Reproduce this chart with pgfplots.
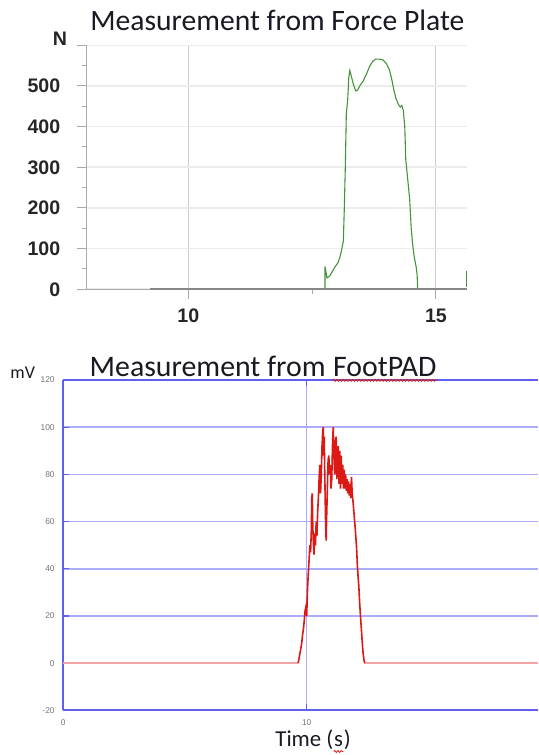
\documentclass[border=0pt]{standalone}
\usepackage{fontspec}
\setmainfont{Carlito}
\newfontfamily\lsans{Liberation Sans}
\usepackage{pgfplots}
\pgfplotsset{compat=1.18}
\usetikzlibrary{decorations.pathmorphing}

\definecolor{fpgreen}{RGB}{70,145,60}
\definecolor{fpaxis}{RGB}{170,170,170}
\definecolor{fpgrid}{RGB}{236,236,236}
\definecolor{fpvgrid}{RGB}{205,205,205}
\definecolor{fpzero}{RGB}{135,135,135}
\definecolor{fpblue}{RGB}{95,95,245}
\definecolor{fpbgrid}{RGB}{172,172,255}
\definecolor{fpred}{RGB}{220,25,20}
\definecolor{fppink}{RGB}{245,165,165}
\definecolor{titlecol}{RGB}{25,25,35}

\begin{document}
\begin{tikzpicture}
\path[use as bounding box] (0,0) rectangle (269pt,377.5pt);

% force plate
\begin{axis}[
  at={(43.35pt,232.85pt)}, anchor=south west, scale only axis,
  width=190pt, height=122pt,
  xmin=7.95, xmax=15.62, ymin=0, ymax=600,
  axis x line*=bottom, axis y line*=left,
  axis line style={-, draw=fpaxis, line width=0.5pt},
  xtick={10,15}, minor xtick={12.5},
  ytick={0,100,...,600}, yticklabels={0,100,200,300,400,500,{}},
  minor ytick={50,150,...,550},
  tick align=outside, major tick length=5pt, minor tick length=2.5pt,
  tick style={draw=fpaxis, line width=0.5pt},
  xmajorgrids, ymajorgrids,
  x grid style={draw=fpvgrid, line width=0.5pt},
  y grid style={draw=fpgrid, line width=0.8pt},
  /pgf/number format/assume math mode=true,
  ticklabel style={font=\lsans\bfseries\fontsize{9.8}{11}\selectfont, text=black!85},
  yticklabel style={anchor=east, inner sep=0pt, xshift=-8pt},
  xticklabel style={anchor=center, inner sep=0pt, yshift=-8.35pt},
  clip=false,
]
\addplot[fpgreen, line width=0.55pt] coordinates {
(12.76,0) (12.76,56) (12.80,28) (12.85,32) (12.90,42) (12.96,55) (13.02,65)
(13.06,78) (13.10,100) (13.13,118) (13.15,200) (13.17,300) (13.19,430)
(13.22,470) (13.24,520) (13.26,538) (13.29,525) (13.33,505) (13.38,488)
(13.42,490) (13.47,502) (13.53,512) (13.60,530) (13.66,548) (13.72,560)
(13.78,566) (13.86,566) (13.93,564) (14.00,555) (14.06,540) (14.11,515)
(14.15,490) (14.19,470) (14.24,455) (14.28,448) (14.31,452) (14.34,440)
(14.37,400) (14.39,320) (14.43,270) (14.47,220) (14.50,150) (14.53,110)
(14.56,80) (14.60,55) (14.62,35) (14.63,0)
};
\addplot[fpgreen, line width=0.55pt] coordinates {(15.61,5) (15.61,45)};
\addplot[fpzero, line width=0.8pt] coordinates {(9.23,0) (15.62,0)};
\end{axis}
\node[anchor=base, inner sep=0pt, font=\lsans\bfseries\fontsize{9.8}{11}\selectfont, text=black!85]
  at (30pt,354.5pt) {N};
\node[anchor=base west, inner sep=0pt, font=\fontsize{14.8}{16}\selectfont, text=titlecol]
  at (45pt,362.15pt) {Measurement from Force Plate};

% footpad
\begin{axis}[
  at={(31.65pt,22.25pt)}, anchor=south west, scale only axis,
  width=237.3pt, height=165.25pt,
  xmin=0, xmax=19.5, ymin=-20, ymax=120,
  axis x line*=box, axis y line*=left,
  axis line style={-, draw=fpblue, line width=1pt},
  xtick={0,10}, ytick={-20,20,40,...,120},
  extra y ticks={0}, extra y tick style={grid=none},
  tick align=inside, major tick length=3pt,
  tick style={draw=fpblue, line width=0.6pt},
  xmajorgrids, ymajorgrids,
  grid style={draw=fpbgrid, line width=0.8pt},
  /pgf/number format/assume math mode=true,
  ticklabel style={font=\lsans\fontsize{4.2}{5}\selectfont, text=black!55},
  yticklabel style={anchor=east, inner sep=0pt, xshift=-4.15pt},
  xticklabel style={anchor=center, inner sep=0pt, yshift=-6.1pt},
  clip=false,
]
\addplot[fppink, line width=0.8pt] coordinates {(0,0) (9.65,0)};
\addplot[fppink, line width=0.8pt] coordinates {(12.39,0) (19.5,0)};
\addplot[fpred, line width=0.8pt] coordinates {
(9.65,0) (9.72,4) (9.79,8) (9.83,12) (9.86,14) (9.90,18) (9.93,22) (9.97,24)
(10.00,20) (10.03,30) (10.06,37) (10.10,44) (10.13,50) (10.16,47) (10.19,56)
(10.21,70) (10.23,72) (10.25,58) (10.28,50) (10.30,46) (10.33,55) (10.36,50)
(10.39,60) (10.42,54) (10.45,64) (10.48,70) (10.51,78) (10.54,84) (10.57,72)
(10.60,80) (10.63,92) (10.66,98) (10.68,100) (10.70,88) (10.72,96) (10.74,82)
(10.76,70) (10.78,58) (10.80,52) (10.82,62) (10.85,74) (10.88,86) (10.91,88)
(10.94,80) (10.97,84) (11.00,74) (11.03,78) (11.06,92) (11.09,100) (11.12,88)
(11.15,80) (11.18,94) (11.21,96) (11.24,78) (11.27,86) (11.30,92) (11.33,76)
(11.36,90) (11.39,74) (11.42,88) (11.45,76) (11.48,84) (11.51,74) (11.54,82)
(11.57,74) (11.60,80) (11.63,73) (11.66,78) (11.69,72) (11.72,77) (11.75,71)
(11.78,76) (11.81,70) (11.84,79) (11.87,72) (11.90,69) (11.94,64) (11.98,59)
(12.01,55) (12.05,49) (12.08,42) (12.11,37) (12.14,33) (12.18,25) (12.21,20)
(12.25,14) (12.29,8) (12.32,4) (12.36,1) (12.39,0)
};
\end{axis}
\node[anchor=base west, inner sep=0pt, font=\fontsize{9}{10}\selectfont, text=titlecol]
  at (5pt,188.35pt) {mV};
\node[anchor=base west, inner sep=0pt, font=\fontsize{14.9}{16}\selectfont, text=titlecol]
  (t2a) at (44.65pt,189.15pt) {Measurement from};
\node[anchor=base west, inner sep=0pt, font=\fontsize{14.9}{16}\selectfont, text=titlecol]
  (t2b) at ([xshift=3.3pt]t2a.base east) {FootPAD};
\draw[fpred, line width=0.4pt, decorate, decoration={snake, amplitude=0.5pt, segment length=1.6pt}]
  ([yshift=-1.8pt]t2b.base west) -- ([yshift=-1.8pt]t2b.base east);
\node[anchor=base west, inner sep=0pt, font=\fontsize{11.4}{13}\selectfont, text=titlecol]
  (t3a) at (137.5pt,4.15pt) {Time (};
\node[anchor=base west, inner sep=0pt, font=\fontsize{11.4}{13}\selectfont, text=titlecol]
  (t3b) at (t3a.base east) {s};
\node[anchor=base west, inner sep=0pt, font=\fontsize{11.4}{13}\selectfont, text=titlecol]
  (t3c) at (t3b.base east) {)};
\draw[fpred, line width=0.4pt, decorate, decoration={snake, amplitude=0.5pt, segment length=1.6pt}]
  ([yshift=-2.4pt]t3b.base west) -- ([yshift=-2.4pt]t3b.base east);
\end{tikzpicture}
\end{document}
